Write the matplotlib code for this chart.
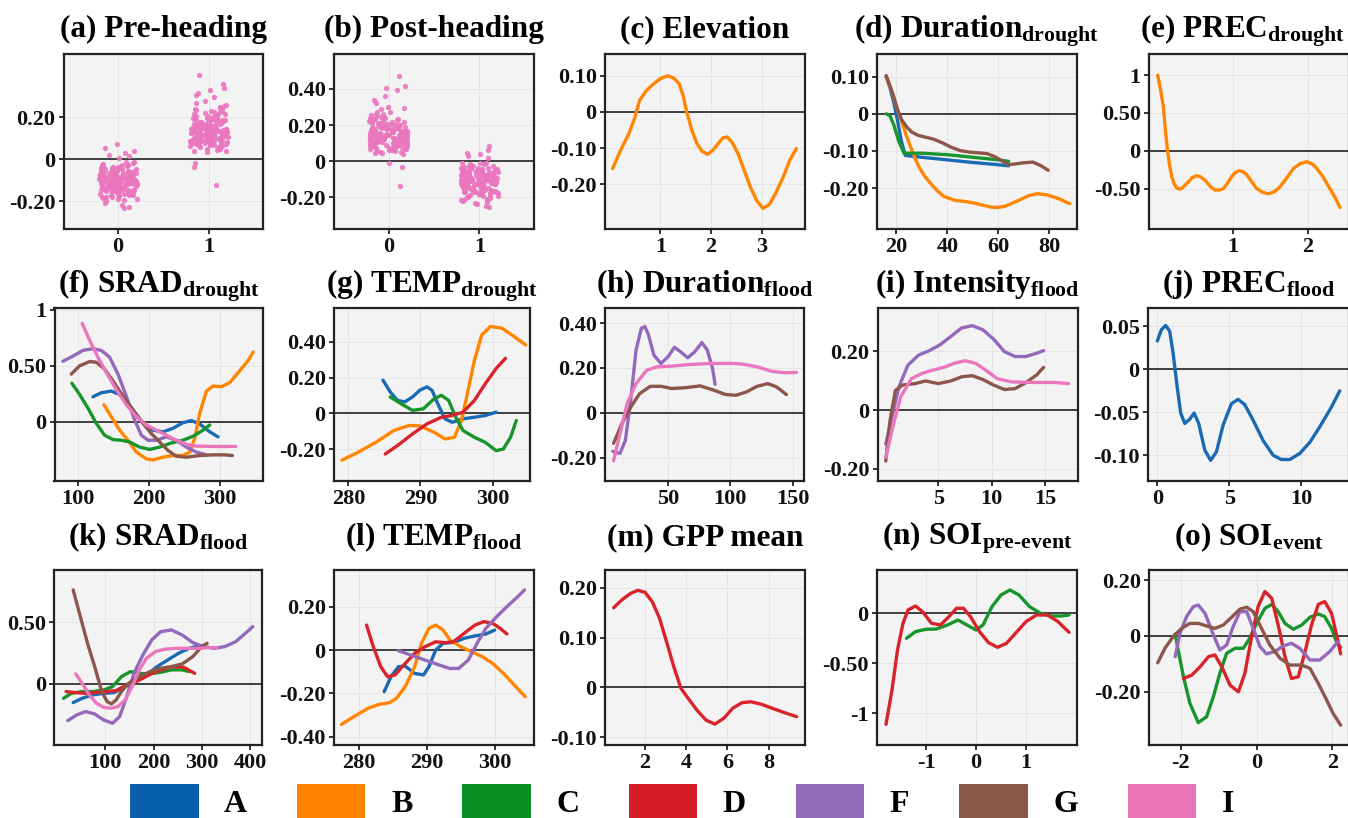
import matplotlib
matplotlib.use("Agg")
import matplotlib.pyplot as plt
from matplotlib.patches import Patch
import pandas as pd
import seaborn as sns

# ============================================================
# DADOS
# ============================================================

grupos = ["A", "B", "C", "D", "F", "G", "I"]
cores = {"A": "#1a6ab3", "B": "#ff8502", "C": "#17952c", "D": "#d8232a",
         "F": "#9468bb", "G": "#8c564b", "I": "#ea76be"}
cores_legenda = {"A": "#0a5fad", "B": "#ff8200", "C": "#0b8f22", "D": "#d61e26",
                 "F": "#936ab6", "G": "#8b574b", "I": "#ea74b5"}

# (a) e (b): valores individuais por categoria (0 / 1)
pre_heading_0 = [
    -0.101, -0.083, -0.142, -0.057, -0.119, -0.134, -0.072, -0.168, -0.028, -0.096,
    -0.112, -0.147, -0.064, -0.185, -0.093, -0.041, -0.127, -0.158, -0.081, -0.035,
    -0.108, -0.131, -0.089, -0.176, -0.061, -0.153, -0.018, -0.099, -0.122, -0.074,
    -0.139, -0.052, -0.087, -0.171, -0.114, -0.078, -0.128, -0.023, -0.162, -0.104,
    -0.066, -0.117, -0.196, -0.091, -0.046, -0.144, -0.109, -0.069, -0.151, -0.031,
    -0.097, -0.181, -0.084, -0.124, -0.054, -0.136, -0.092, -0.164, -0.113, -0.059,
    -0.141, -0.026, -0.103, -0.071, -0.189, -0.121, -0.079, -0.155, -0.043, -0.106,
    -0.133, -0.086, -0.173, -0.063, -0.098, -0.146, -0.037, -0.118, -0.082, -0.159,
    -0.049, -0.111, -0.208, -0.094, -0.129, -0.068, -0.149, -0.102, -0.014, -0.178,
    -0.115, -0.076, -0.138, -0.088, -0.125, -0.058, -0.166, -0.095, -0.107, -0.044,
    -0.131, -0.073, -0.154, -0.101, -0.085, -0.192, -0.116, -0.062, -0.137, -0.033,
    -0.087, -0.123, -0.065, -0.148, -0.109, -0.036, -0.171, -0.094, -0.131, -0.077,
    -0.113, -0.052, -0.157, -0.099, -0.141, -0.068, -0.186, -0.104, -0.029, -0.126,
    -0.083, -0.118, -0.061, -0.143, -0.097, -0.161, -0.047, -0.109, -0.135, -0.072,
    -0.199, -0.091, -0.116, -0.055, -0.152, -0.081, -0.127, -0.039, -0.167, -0.102,
    -0.074, -0.138, -0.011, -0.112, -0.089, -0.179, -0.064, -0.121, -0.096, -0.145,
    0.071, 0.052, 0.041, 0.030, 0.022, 0.013, 0.006, -0.218, -0.227, -0.234]
pre_heading_1 = [
    0.131, 0.152, 0.094, 0.203, 0.118, 0.076, 0.171, 0.109, 0.238, 0.143,
    0.062, 0.126, 0.187, 0.098, 0.157, 0.041, 0.214, 0.113, 0.136, 0.083,
    0.176, 0.121, 0.249, 0.104, 0.068, 0.162, 0.139, 0.091, 0.197, 0.127,
    0.053, 0.148, 0.116, 0.228, 0.087, 0.169, 0.134, 0.072, 0.183, 0.107,
    0.259, 0.124, 0.096, 0.155, 0.047, 0.209, 0.119, 0.141, 0.079, 0.193,
    0.112, 0.166, 0.058, 0.131, 0.222, 0.101, 0.145, 0.086, 0.174, 0.123,
    0.037, 0.159, 0.106, 0.243, 0.128, 0.073, 0.189, 0.115, 0.149, 0.093,
    0.217, 0.137, 0.064, 0.178, 0.103, 0.154, 0.082, 0.233, 0.122, 0.167,
    0.099, 0.142, 0.051, 0.206, 0.117, 0.135, 0.077, 0.186, 0.108, 0.161,
    0.268, 0.129, 0.089, 0.146, 0.066, 0.199, 0.111, 0.172, 0.133, 0.097,
    0.115, 0.163, 0.084, 0.192, 0.127, 0.058, 0.231, 0.106, 0.149, 0.073,
    0.178, 0.121, 0.046, 0.207, 0.138, 0.092, 0.254, 0.113, 0.158, 0.067,
    0.185, 0.131, 0.099, 0.224, 0.108, 0.146, 0.079, 0.196, 0.124, 0.062,
    0.169, 0.141, 0.088, 0.241, 0.117, 0.153, 0.034, 0.201, 0.129, 0.095,
    0.276, 0.112, 0.164, 0.071, 0.188, 0.136, 0.103, 0.219, 0.147, 0.081,
    0.402, 0.361, 0.342, 0.331, 0.318, 0.305, 0.296, -0.018, -0.035, -0.121]
post_heading_0 = [
    0.142, 0.168, 0.101, 0.219, 0.127, 0.083, 0.186, 0.118, 0.256, 0.153,
    0.067, 0.136, 0.203, 0.106, 0.171, 0.048, 0.232, 0.122, 0.147, 0.091,
    0.191, 0.131, 0.271, 0.113, 0.074, 0.176, 0.151, 0.098, 0.214, 0.138,
    0.058, 0.161, 0.125, 0.247, 0.094, 0.183, 0.145, 0.078, 0.199, 0.116,
    0.288, 0.134, 0.104, 0.168, 0.052, 0.227, 0.129, 0.153, 0.086, 0.209,
    0.121, 0.179, 0.063, 0.141, 0.241, 0.109, 0.157, 0.093, 0.188, 0.133,
    0.044, 0.172, 0.114, 0.263, 0.139, 0.079, 0.205, 0.124, 0.162, 0.101,
    0.236, 0.148, 0.069, 0.193, 0.111, 0.167, 0.089, 0.252, 0.132, 0.181,
    0.107, 0.154, 0.056, 0.223, 0.126, 0.146, 0.084, 0.201, 0.117, 0.174,
    0.302, 0.139, 0.096, 0.159, 0.071, 0.216, 0.119, 0.186, 0.144, 0.104,
    0.128, 0.176, 0.091, 0.208, 0.139, 0.064, 0.247, 0.113, 0.162, 0.079,
    0.194, 0.131, 0.051, 0.226, 0.149, 0.098, 0.273, 0.121, 0.171, 0.072,
    0.201, 0.143, 0.106, 0.239, 0.117, 0.158, 0.086, 0.213, 0.135, 0.068,
    0.183, 0.152, 0.094, 0.261, 0.126, 0.166, 0.041, 0.218, 0.138, 0.102,
    0.294, 0.121, 0.177, 0.076, 0.204, 0.147, 0.111, 0.236, 0.159, 0.087,
    0.472, 0.418, 0.407, 0.396, 0.362, 0.341, 0.322, -0.012, -0.031, -0.135]
post_heading_1 = [
    -0.098, -0.121, -0.062, -0.163, -0.087, -0.044, -0.139, -0.076, -0.198, -0.112,
    -0.031, -0.094, -0.152, -0.067, -0.128, -0.012, -0.176, -0.083, -0.106, -0.053,
    -0.145, -0.091, -0.207, -0.072, -0.036, -0.133, -0.109, -0.058, -0.168, -0.097,
    -0.021, -0.117, -0.081, -0.189, -0.049, -0.141, -0.103, -0.039, -0.157, -0.073,
    -0.214, -0.093, -0.064, -0.124, -0.017, -0.172, -0.086, -0.111, -0.042, -0.161,
    -0.079, -0.136, -0.027, -0.101, -0.184, -0.068, -0.115, -0.052, -0.148, -0.095,
    -0.008, -0.131, -0.074, -0.202, -0.104, -0.041, -0.159, -0.088, -0.119, -0.061,
    -0.181, -0.107, -0.033, -0.143, -0.071, -0.127, -0.056, -0.194, -0.092, -0.137,
    -0.066, -0.113, -0.024, -0.169, -0.084, -0.108, -0.047, -0.151, -0.078, -0.134,
    -0.219, -0.099, -0.059, -0.122, -0.038, -0.165, -0.082, -0.146, -0.105, -0.069,
    -0.089, -0.132, -0.057, -0.171, -0.101, -0.029, -0.149, -0.078, -0.119, -0.046,
    -0.158, -0.094, -0.018, -0.187, -0.112, -0.066, -0.209, -0.083, -0.127, -0.051,
    -0.163, -0.107, -0.072, -0.196, -0.091, -0.138, -0.035, -0.176, -0.114, -0.062,
    -0.147, -0.121, -0.081, -0.216, -0.098, -0.142, -0.011, -0.182, -0.109, -0.075,
    -0.224, -0.096, -0.153, -0.054, -0.171, -0.117, -0.086, -0.192, -0.131, -0.068,
    0.083, 0.061, 0.048, 0.039, 0.027, 0.015, -0.238, -0.247, -0.256, -0.229]

# (c) Elevation
elevation = {
    "B": [(0.06, -0.156), (0.22, -0.105), (0.38, -0.06), (0.50, -0.015), (0.59, 0.032),
          (0.72, 0.058), (0.87, 0.078), (1.0, 0.092), (1.15, 0.10), (1.27, 0.093),
          (1.37, 0.078), (1.45, 0.045), (1.51, 0.005), (1.62, -0.05), (1.72, -0.087),
          (1.82, -0.108), (1.93, -0.117), (2.04, -0.105), (2.14, -0.087), (2.23, -0.072),
          (2.32, -0.069), (2.42, -0.085), (2.53, -0.115), (2.65, -0.16), (2.77, -0.206),
          (2.90, -0.245), (3.02, -0.266), (3.15, -0.255), (3.27, -0.225), (3.42, -0.18),
          (3.55, -0.133), (3.68, -0.101)],
}

# (d) Duration drought
duration_drought = {
    "A": [(16, 0.10), (17.5, 0.07), (19, 0.03), (20.5, -0.02), (22, -0.075), (23.5, -0.112),
          (30, -0.117), (40, -0.124), (50, -0.131), (60, -0.137), (64, -0.14)],
    "B": [(16, 0.10), (18, 0.065), (20, 0.02), (22, -0.02), (24.5, -0.07), (27, -0.115),
          (29, -0.145), (31, -0.167), (33, -0.184), (36, -0.207), (38.5, -0.222), (43, -0.233),
          (48, -0.237), (51, -0.241), (54, -0.246), (57, -0.251), (59.5, -0.252), (62.5, -0.249),
          (65, -0.242), (69.5, -0.228), (72, -0.22), (75, -0.215), (79, -0.218), (83.5, -0.228),
          (88, -0.242)],
    "C": [(16, 0.0), (17.5, -0.005), (19, -0.03), (21, -0.075), (23, -0.106), (30, -0.106),
          (40, -0.110), (50, -0.117), (60, -0.124), (64, -0.128)],
    "G": [(16, 0.103), (17.5, 0.075), (19, 0.045), (20.5, 0.01), (22, -0.015), (24, -0.035),
          (26, -0.049), (28.5, -0.058), (31.5, -0.063), (34.5, -0.068), (38, -0.078),
          (41.5, -0.090), (45, -0.099), (48.5, -0.103), (52, -0.105), (55.5, -0.107),
          (58.5, -0.115), (61, -0.125), (63.8, -0.137), (66.5, -0.135), (69.5, -0.132),
          (73.5, -0.13), (76.5, -0.139), (79.5, -0.152)],
}

# (e) PREC drought
prec_drought = {
    "B": [(0.0, 1.0), (0.04, 0.80), (0.076, 0.58), (0.10, 0.30), (0.13, 0.01), (0.16, -0.2),
          (0.187, -0.34), (0.22, -0.44), (0.253, -0.49), (0.29, -0.505), (0.32, -0.50),
          (0.36, -0.46), (0.41, -0.41), (0.46, -0.355), (0.52, -0.33), (0.57, -0.345),
          (0.63, -0.39), (0.70, -0.47), (0.76, -0.52), (0.82, -0.52), (0.876, -0.50),
          (0.93, -0.43), (0.987, -0.34), (1.04, -0.285), (1.09, -0.264), (1.14, -0.28),
          (1.19, -0.32), (1.26, -0.42), (1.32, -0.50), (1.40, -0.55), (1.48, -0.57),
          (1.56, -0.54), (1.63, -0.476), (1.72, -0.36), (1.81, -0.233), (1.90, -0.17),
          (1.99, -0.145), (2.06, -0.175), (2.12, -0.233), (2.20, -0.34), (2.28, -0.476),
          (2.36, -0.61), (2.43, -0.75)],
}

# (f) SRAD drought
srad_drought = {
    "A": [(121.2, 0.224), (133, 0.26), (147, 0.275), (158.8, 0.245), (170.6, 0.169),
          (182.4, 0.063), (194.1, -0.027), (205.9, -0.073), (220, -0.088), (234.1, -0.057),
          (248.2, -0.006), (260, 0.012), (271.8, -0.018), (285.9, -0.088), (297.6, -0.133)],
    "B": [(136.7, 0.154), (147, 0.048), (158.8, -0.073), (170.6, -0.163), (182.4, -0.269),
          (196.5, -0.329), (205.9, -0.338), (220, -0.314), (234.1, -0.299), (248.2, -0.299),
          (257.6, -0.269), (264.7, -0.148), (271.8, 0.079), (281.2, 0.275), (290.6, 0.32),
          (302.4, 0.314), (314.1, 0.35), (328.2, 0.456), (340, 0.547), (347.1, 0.622)],
    "C": [(91.5, 0.344), (102.4, 0.245), (114.1, 0.124), (125.9, -0.012), (137.6, -0.118),
          (149.4, -0.157), (161.2, -0.163), (172.9, -0.178), (187, -0.224), (201.2, -0.245),
          (215.3, -0.224), (231.8, -0.187), (248.2, -0.163), (262.4, -0.127), (276.5, -0.073),
          (285.9, -0.027)],
    "F": [(78.8, 0.54), (92.9, 0.586), (107, 0.637), (121.2, 0.653), (133, 0.637),
          (144.7, 0.577), (156.5, 0.426), (168.2, 0.23), (180, 0.018), (189.4, -0.118),
          (198.8, -0.163), (210.6, -0.163), (224.7, -0.133), (238.8, -0.163), (253, -0.224),
          (267, -0.269), (281, -0.293)],
    "G": [(90.6, 0.426), (102.4, 0.50), (116.5, 0.538), (125.9, 0.532), (137.6, 0.471),
          (149.4, 0.366), (163.5, 0.23), (177.6, 0.109), (191.8, -0.012), (203.5, -0.103),
          (215.3, -0.178), (227, -0.254), (238.8, -0.305), (253, -0.314), (271.8, -0.299),
          (290.6, -0.293), (307, -0.293), (317.9, -0.299)],
    "I": [(106, 0.879), (116.5, 0.728), (128.2, 0.577), (140, 0.441), (154, 0.29),
          (168.2, 0.154), (182.4, 0.048), (196.5, -0.027), (210.6, -0.073), (224.7, -0.118),
          (238.8, -0.163), (253, -0.2), (267, -0.215), (285.9, -0.218), (304.7, -0.218),
          (322.6, -0.218)],
}

# (g) TEMP drought
temp_drought = {
    "A": [(284.8, 0.185), (285.8, 0.12), (286.8, 0.073), (287.8, 0.064), (288.9, 0.092),
          (289.9, 0.129), (290.9, 0.148), (291.6, 0.129), (292.4, 0.054), (293.4, -0.03),
          (294.4, -0.049), (295.9, -0.03), (297.5, -0.021), (299, -0.011), (300.5, 0.007)],
    "B": [(279.1, -0.26), (281.3, -0.217), (283.8, -0.161), (286.3, -0.095), (288.4, -0.067),
          (289.9, -0.069), (291.9, -0.105), (293.4, -0.142), (294.7, -0.133), (295.7, -0.039),
          (296.5, 0.11), (297.5, 0.297), (298.5, 0.437), (299.7, 0.484), (301.3, 0.475),
          (303, 0.428), (304.6, 0.381)],
    "C": [(285.8, 0.092), (287.3, 0.054), (288.9, 0.017), (290.4, 0.026), (291.9, 0.082),
          (292.9, 0.101), (293.9, 0.073), (294.9, -0.021), (295.9, -0.095), (297.5, -0.133),
          (299, -0.161), (300.5, -0.207), (301.5, -0.198), (302.5, -0.133), (303.3, -0.039)],
    "D": [(285.1, -0.226), (286.8, -0.179), (288.9, -0.114), (290.9, -0.058), (292.9, -0.021),
          (294.4, -0.011), (295.9, 0.007), (297.5, 0.073), (299, 0.166), (300.5, 0.25),
          (301.8, 0.307)],
}

# (h) Duration flood
duration_flood = {
    "F": [(5.7, -0.172), (11.4, -0.181), (15.7, -0.124), (20, 0.055), (24.3, 0.28),
          (28.6, 0.377), (31.4, 0.384), (34.3, 0.347), (38.6, 0.257), (44.3, 0.22),
          (50, 0.25), (55.1, 0.292), (60, 0.272), (65.7, 0.245), (71.4, 0.272), (77.1, 0.313),
          (81.4, 0.28), (85.7, 0.197), (87.7, 0.127)],
    "G": [(6.3, -0.136), (12.9, -0.049), (20, 0.025), (27.1, 0.085), (35.7, 0.118),
          (44.3, 0.118), (52.9, 0.108), (64.3, 0.112), (75.7, 0.12), (87.1, 0.1), (95.7, 0.082),
          (104.3, 0.078), (112.9, 0.093), (121.4, 0.118), (130, 0.13), (137.1, 0.115),
          (144.9, 0.081)],
    "I": [(6.3, -0.214), (11.4, -0.094), (17.1, 0.04), (24.3, 0.13), (32.9, 0.19),
          (41.4, 0.205), (52.9, 0.208), (67.1, 0.215), (84.3, 0.22), (101.4, 0.22),
          (110, 0.217), (121.4, 0.205), (132.9, 0.185), (144.3, 0.178), (152.9, 0.18)],
}

# (i) Intensity flood
intensity_flood = {
    "F": [(0.1, -0.115), (0.67, -0.024), (1.33, 0.079), (2.17, 0.153), (3.17, 0.187),
          (4.17, 0.202), (5.17, 0.222), (6.17, 0.25), (7.17, 0.279), (8.17, 0.287),
          (9.17, 0.273), (10.17, 0.241), (11.17, 0.199), (12.17, 0.182), (13.17, 0.182),
          (14.17, 0.193), (14.83, 0.202)],
    "G": [(0.1, -0.173), (0.5, -0.035), (1, 0.067), (1.67, 0.085), (2.83, 0.09), (3.83, 0.099),
          (5, 0.09), (6.17, 0.099), (7.17, 0.113), (8.17, 0.117), (9.17, 0.104), (10.17, 0.085),
          (11.17, 0.07), (12.17, 0.073), (13.17, 0.093), (14.17, 0.119), (14.83, 0.145)],
    "I": [(0.1, -0.161), (0.83, -0.047), (1.5, 0.045), (2.5, 0.107), (3.5, 0.125), (4.5, 0.136),
          (5.5, 0.145), (6.5, 0.159), (7.5, 0.168), (8.5, 0.159), (9.5, 0.134), (10.5, 0.107),
          (11.83, 0.096), (13.83, 0.094), (15.83, 0.094), (17.17, 0.09)],
}

# (j) PREC flood
prec_flood = {
    "A": [(0, 0.033), (0.28, 0.046), (0.58, 0.051), (0.86, 0.044), (1.09, 0.019), (1.37, -0.02),
          (1.62, -0.051), (1.9, -0.063), (2.25, -0.058), (2.55, -0.051), (2.87, -0.063),
          (3.29, -0.094), (3.7, -0.106), (4.1, -0.096), (4.56, -0.065), (5.14, -0.04),
          (5.6, -0.035), (6.06, -0.041), (6.64, -0.059), (7.34, -0.083), (8.03, -0.1),
          (8.6, -0.105), (9.19, -0.105), (9.88, -0.098), (10.58, -0.085), (11.27, -0.067),
          (12.08, -0.044), (12.66, -0.025)],
}

# (k) SRAD flood
srad_flood = {
    "A": [(33.3, -0.151), (51.9, -0.116), (74.1, -0.089), (96.3, -0.076), (118.5, -0.07),
          (140.7, -0.022), (163, 0.019), (185.2, 0.073), (207.4, 0.141), (229.6, 0.195),
          (251.9, 0.249), (274.1, 0.289), (292.6, 0.308)],
    "C": [(13.3, -0.116), (29.6, -0.076), (51.9, -0.062), (74.1, -0.062), (96.3, -0.049),
          (114.8, -0.022), (133.3, 0.059), (151.9, 0.1), (170.4, 0.086), (192.6, 0.081),
          (214.8, 0.095), (237, 0.114), (259.3, 0.114), (274.1, 0.1)],
    "D": [(18.5, -0.062), (37, -0.07), (59.3, -0.076), (77.8, -0.07), (100, -0.062),
          (122.2, -0.054), (140.7, -0.016), (159.3, 0.011), (177.8, 0.046), (196.3, 0.086),
          (218.5, 0.119), (240.7, 0.141), (263, 0.135), (285.2, 0.086)],
    "F": [(22.2, -0.297), (40.7, -0.251), (59.3, -0.224), (77.8, -0.243), (96.3, -0.292),
          (114.8, -0.319), (129.6, -0.265), (144.4, -0.103), (159.3, 0.086), (177.8, 0.235),
          (196.3, 0.357), (214.8, 0.424), (237, 0.438), (259.3, 0.397), (281.5, 0.335),
          (303.7, 0.303), (325.9, 0.289), (348.1, 0.303), (370.4, 0.343), (388.9, 0.405),
          (405.9, 0.465)],
    "G": [(33.3, 0.762), (48.1, 0.546), (63, 0.33), (77.8, 0.141), (92.6, -0.062),
          (103.7, -0.143), (112.6, -0.162), (122.2, -0.13), (133.3, -0.062), (148.1, 0.005),
          (170.4, 0.059), (192.6, 0.1), (214.8, 0.127), (237, 0.141), (259.3, 0.162),
          (281.5, 0.222), (300, 0.303), (311, 0.33)],
    "I": [(38.5, 0.081), (51.9, 0.005), (66.7, -0.089), (81.5, -0.157), (96.3, -0.189),
          (111.1, -0.197), (125.9, -0.184), (140.7, -0.13), (155.6, -0.022), (170.4, 0.114),
          (185.2, 0.208), (203.7, 0.262), (222.2, 0.281), (244.4, 0.289), (266.7, 0.289),
          (292.6, 0.289), (314.8, 0.295), (331.9, 0.295)],
}

# (l) TEMP flood
temp_flood = {
    "A": [(283.7, -0.192), (284.7, -0.123), (285.8, -0.077), (286.8, -0.074), (288.2, -0.108),
          (289.5, -0.115), (290.3, -0.077), (291.3, 0.0), (292.4, 0.031), (294, 0.035),
          (295.5, 0.054), (297.1, 0.065), (298.7, 0.074), (300, 0.092)],
    "B": [(277.4, -0.343), (279.2, -0.308), (281.3, -0.269), (282.9, -0.251), (284.5, -0.243),
          (285.5, -0.223), (286.8, -0.169), (288.2, -0.077), (289.2, 0.031), (290.3, 0.1),
          (291.3, 0.115), (292.4, 0.092), (293.4, 0.046), (295, 0.015), (296.6, -0.008),
          (298.2, -0.031), (299.7, -0.062), (301.3, -0.108), (302.9, -0.162), (304.5, -0.215)],
    "D": [(281.1, 0.115), (282.1, 0.015), (283.2, -0.077), (284.2, -0.123), (285.3, -0.115),
          (286.6, -0.069), (288.2, -0.015), (289.7, 0.015), (291.3, 0.038), (292.6, 0.034),
          (293.9, 0.038), (295.5, 0.077), (297.1, 0.115), (298.4, 0.131), (299.7, 0.123),
          (300.8, 0.1), (301.8, 0.074)],
    "F": [(285.8, -0.003), (287.6, -0.023), (289.7, -0.046), (291.8, -0.069), (293.4, -0.085),
          (294.7, -0.085), (296.1, -0.046), (297.4, 0.031), (298.7, 0.1), (300.3, 0.154),
          (301.8, 0.2), (303.4, 0.246), (304.4, 0.277)],
}

# (m) GPP mean
gpp_mean = {
    "D": [(0.47, 0.16), (0.87, 0.176), (1.3, 0.189), (1.65, 0.195), (2, 0.191), (2.35, 0.172),
          (2.7, 0.139), (3.04, 0.092), (3.39, 0.042), (3.74, -0.002), (4.09, -0.022),
          (4.52, -0.046), (4.96, -0.066), (5.39, -0.074), (5.83, -0.062), (6.26, -0.042),
          (6.7, -0.031), (7.13, -0.029), (7.65, -0.034), (8.17, -0.042), (8.78, -0.051),
          (9.36, -0.059)],
}

# (n) SOI pre-event
soi_pre_event = {
    "C": [(-1.39, -0.25), (-1.21, -0.183), (-1, -0.16), (-0.79, -0.157), (-0.57, -0.117),
          (-0.36, -0.067), (-0.18, -0.117), (0, -0.167), (0.14, -0.117), (0.32, 0.067),
          (0.5, 0.183), (0.68, 0.233), (0.86, 0.183), (1.07, 0.067), (1.29, 0.0),
          (1.5, -0.027), (1.71, -0.027), (1.86, -0.017)],
    "D": [(-1.8, -1.11), (-1.68, -0.767), (-1.57, -0.367), (-1.46, -0.1), (-1.36, 0.033),
          (-1.21, 0.073), (-1.07, 0.017), (-0.89, -0.1), (-0.71, -0.117), (-0.54, -0.033),
          (-0.39, 0.05), (-0.25, 0.05), (-0.11, -0.033), (0.07, -0.183), (0.25, -0.293),
          (0.43, -0.34), (0.61, -0.3), (0.79, -0.2), (1.0, -0.083), (1.21, -0.017),
          (1.43, -0.017), (1.64, -0.083), (1.86, -0.19)],
}

# (o) SOI event
soi_event = {
    "C": [(-2.15, 0.007), (-2.07, -0.05), (-1.93, -0.146), (-1.76, -0.241), (-1.54, -0.31),
          (-1.32, -0.289), (-1.14, -0.217), (-0.97, -0.134), (-0.79, -0.062), (-0.57, -0.044),
          (-0.35, -0.044), (-0.18, -0.008), (0, 0.045), (0.22, 0.099), (0.4, 0.113),
          (0.57, 0.087), (0.75, 0.045), (0.97, 0.024), (1.19, 0.039), (1.41, 0.067),
          (1.63, 0.079), (1.8, 0.069), (1.98, 0.027), (2.11, -0.02), (2.22, -0.041)],
    "D": [(-1.93, -0.152), (-1.71, -0.14), (-1.49, -0.11), (-1.27, -0.074), (-1.1, -0.068),
          (-0.92, -0.11), (-0.7, -0.176), (-0.48, -0.2), (-0.31, -0.134), (-0.13, -0.002),
          (0.04, 0.105), (0.22, 0.159), (0.4, 0.135), (0.57, 0.039), (0.75, -0.074),
          (0.92, -0.152), (1.1, -0.146), (1.27, -0.062), (1.45, 0.039), (1.63, 0.113),
          (1.8, 0.123), (1.98, 0.081), (2.11, 0.004), (2.22, -0.064)],
    "F": [(-2.15, -0.074), (-2.02, 0.01), (-1.85, 0.069), (-1.67, 0.105), (-1.54, 0.111),
          (-1.36, 0.081), (-1.14, 0.004), (-0.97, -0.05), (-0.79, -0.032), (-0.62, 0.033),
          (-0.44, 0.087), (-0.26, 0.087), (-0.09, 0.027), (0.09, -0.038), (0.26, -0.064),
          (0.48, -0.056), (0.7, -0.036), (0.92, -0.026), (1.14, -0.044), (1.41, -0.086),
          (1.67, -0.086), (1.93, -0.056), (2.15, -0.02)],
    "G": [(-2.61, -0.096), (-2.42, -0.044), (-2.2, -0.002), (-1.98, 0.027), (-1.76, 0.045),
          (-1.54, 0.045), (-1.32, 0.036), (-1.1, 0.027), (-0.88, 0.039), (-0.66, 0.067),
          (-0.44, 0.096), (-0.26, 0.103), (-0.09, 0.087), (0.13, 0.027), (0.35, -0.032),
          (0.62, -0.08), (0.88, -0.104), (1.19, -0.104), (1.41, -0.116), (1.63, -0.17),
          (1.85, -0.229), (2.02, -0.277), (2.22, -0.319)],
}


# ============================================================
# CONFIGURAÇÃO DE FONTES
# ============================================================

plt.rcParams["font.family"] = "Liberation Serif"
plt.rcParams["font.weight"] = "bold"
plt.rcParams["mathtext.fontset"] = "custom"
plt.rcParams["mathtext.rm"] = "Liberation Serif:bold"
plt.rcParams["mathtext.bf"] = "Liberation Serif:bold"
plt.rcParams["mathtext.it"] = "Liberation Serif:bold"

W, H = 1348, 818
fig = plt.figure(figsize=(W / 100, H / 100), dpi=100)


def rotulo(v):
    if v == 0:
        return "0"
    if float(v).is_integer():
        return f"{int(v)}"
    return f"{v:.2f}"


def novo_eixo(esq, topo, dir_, base):
    return fig.add_axes([esq / W, 1 - base / H, (dir_ - esq) / W, (base - topo) / H])


def preparar_painel(ax, titulo, xlim, ylim, xticks, yticks, pad, xtitulo):
    ax.set_facecolor("#f3f3f3")
    ax.set_xlim(xlim)
    ax.set_ylim(ylim)
    ax.set_xticks(xticks)
    ax.set_yticks(yticks)
    ax.set_xticklabels([rotulo(v) for v in xticks])
    ax.set_yticklabels([rotulo(v) for v in yticks])
    ax.set_xlabel("")
    ax.set_ylabel("")
    ax.grid(True, color="#e4e4e4", lw=0.7)
    ax.set_axisbelow(True)
    ax.axhline(0, color="#111111", lw=1.1, zorder=1.5)
    for s in ax.spines.values():
        s.set_linewidth(1.6)
        s.set_color("#222222")
    ax.tick_params(length=3.5, width=1.2, labelsize=16, pad=2.5, colors="#111111")
    t = ax.set_title(titulo, fontsize=22.5, fontweight="bold", pad=pad)
    t.set_x(xtitulo)


def desenhar_curvas(ax, series):
    for g in grupos:
        if g in series:
            xs = [p[0] for p in series[g]]
            ys = [p[1] for p in series[g]]
            ax.plot(xs, ys, color=cores[g], lw=2.4, solid_capstyle="round", zorder=2)


def desenhar_pontos(ax, v0, v1):
    df = pd.DataFrame({"cat": [0] * len(v0) + [1] * len(v1), "val": v0 + v1})
    sns.stripplot(data=df, x="cat", y="val", jitter=0.21, size=3.8, color=cores["I"],
                  alpha=0.9, linewidth=0, ax=ax, zorder=2)


# ============================================================
# PAINÉIS
# ============================================================

L1, L2, L3 = (54, 229), (308, 481), (570, 745)
P1, P2, P3 = 12, 11.5, 18

paineis = [
    # (titulo, caixa, xlim, ylim, xticks, yticks, pad, dados)
    ("(a) Pre-heading", (63.6, L1, 263), (-0.6, 1.6), (-0.333, 0.502), [0, 1], [-0.2, 0, 0.2], P1,
     (pre_heading_0, pre_heading_1)),
    ("(b) Post-heading", (334, L1, 534), (-0.6, 1.6), (-0.375, 0.593), [0, 1], [-0.2, 0, 0.2, 0.4], P1,
     (post_heading_0, post_heading_1)),
    ("(c) Elevation", (605, L1, 805), (-0.09, 3.85), (-0.323, 0.16), [1, 2, 3], [-0.2, -0.1, 0, 0.1], P1,
     elevation),
    (r"(d) Duration$_{\mathrm{drought}}$", (877, L1, 1077), (12.4, 90.8), (-0.31, 0.161),
     [20, 40, 60, 80], [-0.2, -0.1, 0, 0.1], P1, duration_drought),
    (r"(e) PREC$_{\mathrm{drought}}$", (1149, L1, 1349), (-0.116, 2.55), (-1.035, 1.28),
     [1, 2], [-0.5, 0, 0.5, 1], P1, prec_drought),
    (r"(f) SRAD$_{\mathrm{drought}}$", (54.5, L2, 263), (67, 361), (-0.526, 1.015),
     [100, 200, 300], [0, 0.5, 1], P2, srad_drought),
    (r"(g) TEMP$_{\mathrm{drought}}$", (334, L2, 530), (278, 305.2), (-0.376, 0.587),
     [280, 290, 300], [-0.2, 0, 0.2, 0.4], P2, temp_drought),
    (r"(h) Duration$_{\mathrm{flood}}$", (605, L2, 804), (-0.6, 159), (-0.304, 0.467),
     [50, 100, 150], [-0.2, 0, 0.2, 0.4], P2, duration_flood),
    (r"(i) Intensity$_{\mathrm{flood}}$", (877.5, L2, 1077.5), (-0.67, 18), (-0.241, 0.347),
     [5, 10, 15], [-0.2, 0, 0.2], P2, intensity_flood),
    (r"(j) PREC$_{\mathrm{flood}}$", (1148, L2, 1349), (-0.65, 13.3), (-0.130, 0.0713),
     [0, 5, 10], [-0.1, -0.05, 0, 0.05], P2, prec_flood),
    (r"(k) SRAD$_{\mathrm{flood}}$", (54.3, L3, 262.5), (-5.9, 426), (-0.495, 0.924),
     [100, 200, 300, 400], [0, 0.5], P3, srad_flood),
    (r"(l) TEMP$_{\mathrm{flood}}$", (334, L3, 534), (276.3, 305.8), (-0.438, 0.369),
     [280, 290, 300], [-0.4, -0.2, 0, 0.2], P3, temp_flood),
    ("(m) GPP mean", (605, L3, 805), (0.05, 9.77), (-0.116, 0.236),
     [2, 4, 6, 8], [-0.1, 0, 0.1, 0.2], P3, gpp_mean),
    (r"(n) SOI$_{\text{pre-event}}$", (877, L3, 1077), (-1.98, 2.02), (-1.317, 0.433),
     [-1, 0, 1], [-1, -0.5, 0], P3, soi_pre_event),
    (r"(o) SOI$_{\mathrm{event}}$", (1149, L3, 1349), (-2.84, 2.44), (-0.39, 0.236),
     [-2, 0, 2], [-0.2, 0, 0.2], P3, soi_event),
]

for titulo, (esq, (topo, base), dir_), xlim, ylim, xt, yt, pad, dados in paineis:
    ax = novo_eixo(esq, topo, dir_, base)
    if isinstance(dados, tuple):
        desenhar_pontos(ax, dados[0], dados[1])
    else:
        desenhar_curvas(ax, dados)
    # o título de (e) fica um pouco à esquerda para caber na figura
    xtitulo = 0.47 if titulo.startswith("(e)") else 0.5
    preparar_painel(ax, titulo, xlim, ylim, xt, yt, pad, xtitulo)


# ============================================================
# LEGENDA
# ============================================================

handles = [Patch(facecolor=cores_legenda[g], edgecolor="none", label=g) for g in grupos]
fig.legend(handles=handles, loc="upper center", bbox_to_anchor=(0.506, 1 - 784 / H),
           ncol=7, frameon=False, fontsize=23, handlelength=2.15, handleheight=1.25,
           handletextpad=0.8, columnspacing=1.55, borderpad=0, borderaxespad=0)

fig.savefig("out.png", dpi=100)
